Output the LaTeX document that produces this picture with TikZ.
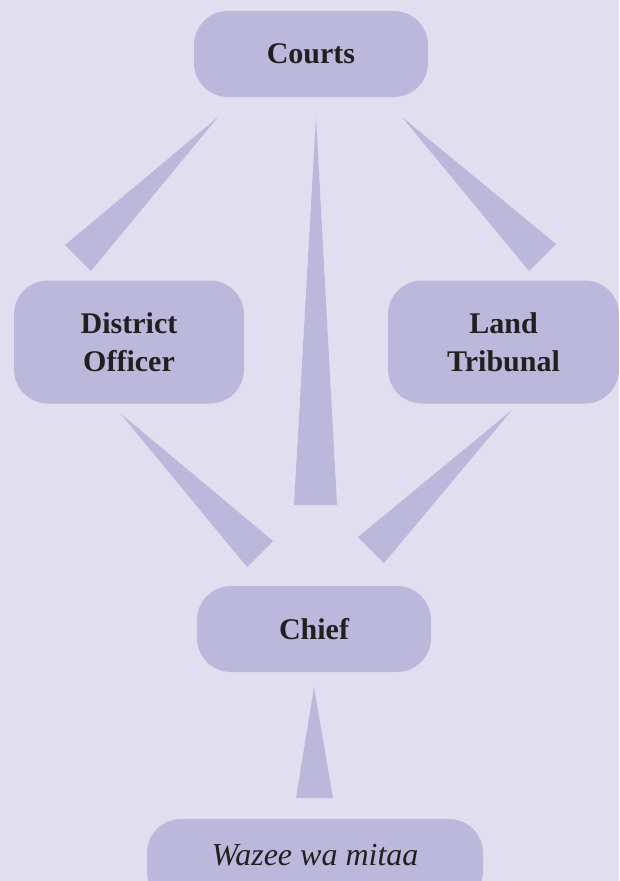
\documentclass[tikz,border=0pt]{standalone}
\usepackage{fontspec}
\setmainfont{Liberation Serif}
\definecolor{bgcol}{HTML}{E1DEF0}
\definecolor{boxcol}{HTML}{BBB8DC}
\definecolor{txtcol}{HTML}{231F20}
\begin{document}
\begin{tikzpicture}[x=1pt,y=-1pt,
  box/.style={fill=boxcol,draw=none,rounded corners=34pt,inner sep=0pt,
    align=center,text=txtcol,font=\fontsize{30}{38}\selectfont\bfseries},
  wedge/.style={fill=boxcol,draw=none}]
\fill[bgcol] (0,0) rectangle (619,881);
\useasboundingbox (0,0) rectangle (619,881);
\clip (0,0) rectangle (619,881);
% boxes
\node[box,minimum width=234pt,minimum height=86pt] (courts) at (311,54) {Courts};
\node[box,minimum width=230pt,minimum height=123pt] (district) at (129,342) {District\\Officer};
\node[box,minimum width=231pt,minimum height=123pt] (land) at (503.5,342) {Land\\Tribunal};
\node[box,minimum width=234pt,minimum height=86pt] (chief) at (314,629) {Chief};
\node[box,minimum width=336pt,minimum height=86pt,font=\fontsize{32}{38}\selectfont\itshape] (wazee) at (315,862) {\raisebox{15pt}{Wazee wa mitaa}};
% wedges
\coordinate (t1) at (218,117);
\fill[wedge] (t1) -- (65,245) -- (91,271) -- cycle;
\coordinate (t2) at (316,117);
\fill[wedge] (t2) -- (294,505) -- (337,505) -- cycle;
\coordinate (t3) at (402,117);
\fill[wedge] (t3) -- (556,244) -- (529,271) -- cycle;
\coordinate (t4) at (120,413);
\fill[wedge] (t4) -- (273,541) -- (247,567) -- cycle;
\coordinate (t5) at (512,410);
\fill[wedge] (t5) -- (358,537) -- (384,563) -- cycle;
\coordinate (t6) at (314,687);
\fill[wedge] (t6) -- (296,798) -- (333,798) -- cycle;
\end{tikzpicture}
\end{document}
